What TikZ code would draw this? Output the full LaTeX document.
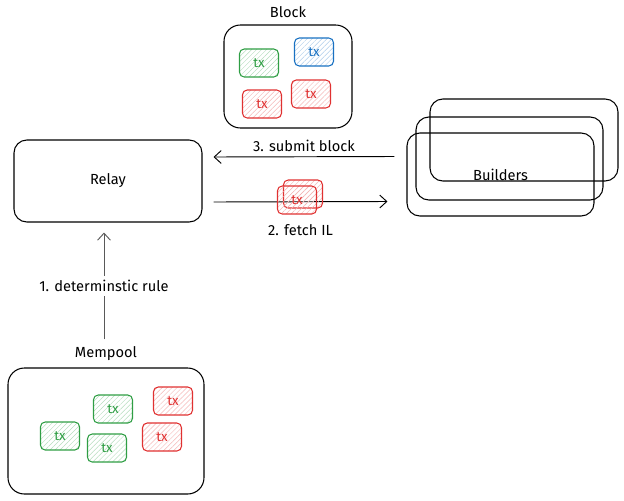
\documentclass[tikz,border=0pt]{standalone}
\usepackage{fontspec}
\setmainfont{Fira Sans}
\usetikzlibrary{arrows.meta, positioning, calc, patterns.meta}
\definecolor{txgreen}{HTML}{2F9E44}
\definecolor{txred}{HTML}{E03131}
\definecolor{txblue}{HTML}{1971C2}
\tikzstyle{box} = [rectangle, draw=black, line width=0.9pt, rounded corners=11pt, text centered, font=\fontsize{12.5}{14}\selectfont]
\tikzstyle{title} = [font=\fontsize{12.5}{14}\selectfont]
\tikzstyle{tx} = [rectangle, line width=0.9pt, rounded corners=4pt, minimum width=1.17cm, minimum height=0.84cm, font=\fontsize{11.5}{13}\selectfont]
\tikzstyle{greentx} = [tx, draw=txgreen, text=txgreen, pattern={Lines[angle=45,distance=3pt,line width=0.4pt]}, pattern color=txgreen!35]
\tikzstyle{redtx} = [tx, draw=txred, text=txred, pattern={Lines[angle=45,distance=3pt,line width=0.4pt]}, pattern color=txred!35]
\tikzstyle{bluetx} = [tx, draw=txblue, text=txblue, pattern={Lines[angle=45,distance=3pt,line width=0.4pt]}, pattern color=txblue!35]
\tikzstyle{arrow} = [line width=0.8pt, -{Straight Barb[length=6pt,width=11pt]}]

\begin{document}
\begin{tikzpicture}[x=0.03cm, y=-0.03cm, node distance=2pt]
\useasboundingbox (0,0) rectangle (624,500);

            % block
            \node (block) [box, rounded corners=14pt, minimum width=3.84cm, minimum height=3.09cm] at (288,76.5) {};
            \node (blocktitle) [title, above=of block] {Block};
            \node (btx1) [greentx] at (259,63) {tx};
            \node (btx2) [bluetx] at (314,52) {tx};
            \node (btx3) [redtx] at (262,104) {tx};
            \node (btx4) [redtx] at (311,94) {tx};

            % relay
            \node (relay) [box, minimum width=5.64cm, minimum height=2.46cm] at (108,181) {Relay};

            % builders
            \node (back) [box, minimum width=5.64cm, minimum height=2.46cm] at (524,140) {};
            \node (middle) [box, minimum width=5.61cm, minimum height=2.49cm] at (509.5,158.5) {};
            \node (front) [box, minimum width=5.61cm, minimum height=2.49cm] at (500.5,174.5) {Builders};

            % mempool
            \node (mempool) [box, rounded corners=14pt, minimum width=5.88cm, minimum height=3.78cm] at (106,431) {};
            \node (mempooltitle) [title, above=of mempool] {Mempool};
            \node (mtx1) [greentx] at (60,436) {tx};
            \node (mtx2) [greentx] at (113,409) {tx};
            \node (mtx3) [greentx] at (107,448) {tx};
            \node (mtx4) [redtx] at (173,401) {tx};
            \node (mtx5) [redtx] at (162,437) {tx};

            \draw [arrow, black!65] ($(mempool.north)+(-2,-28)$) -- node[title, fill=white, text=black] {1. determinstic rule} ($(relay.south)+(-4,10)$);
            \draw [arrow] ($(relay.east)+(11,21)$) -- node[title, below=16pt] {2. fetch IL} ($(front.west)+(-19,27)$);
            \draw [arrow] ($(front.west)+(-12,-18)$) -- node[title, above=1pt] {3. submit block} ($(relay.east)+(11,-24)$);

            % inclusion list
            \node (il1) [redtx] at (303,194) {};
            \node (il2) [redtx] at (297,200) {tx};

\end{tikzpicture}
\end{document}
